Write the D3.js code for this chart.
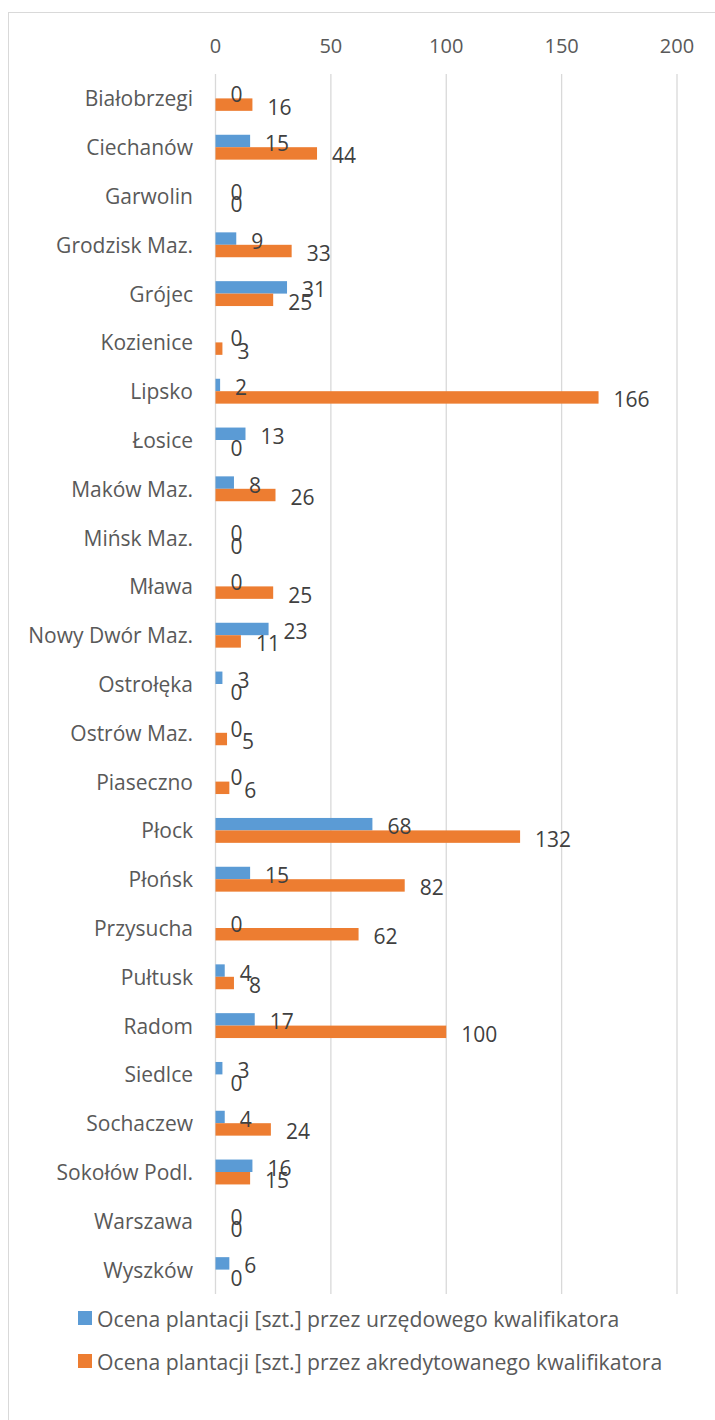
<!DOCTYPE html>
<html>
<head>
<meta charset="utf-8">
<script src="https://cdn.jsdelivr.net/npm/d3@7"></script>
<style>
  body { margin: 0; background: #fff; }
  svg text { font-family: "Open Sans", "Liberation Sans", sans-serif; }
</style>
</head>
<body>
<div id="chart"></div>
<script>
// chart data
const categories = ["Białobrzegi", "Ciechanów", "Garwolin", "Grodzisk Maz.", "Grójec", "Kozienice",
    "Lipsko", "Łosice", "Maków Maz.", "Mińsk Maz.", "Mława", "Nowy Dwór Maz.", "Ostrołęka",
    "Ostrów Maz.", "Piaseczno", "Płock", "Płońsk", "Przysucha", "Pułtusk", "Radom", "Siedlce",
    "Sochaczew", "Sokołów Podl.", "Warszawa", "Wyszków"];
const urzedowy = [0, 15, 0, 9, 31, 0, 2, 13, 8, 0, 0, 23, 3, 0, 0, 68, 15, 0, 4, 17, 3, 4, 16, 0, 6];
const akredytowany = [16, 44, 0, 33, 25, 3, 166, 0, 26, 0, 25, 11, 0, 5, 6, 132, 82, 62, 8, 100, 0, 24, 15, 0, 0];
const seriesNames = ["Ocena plantacji [szt.] przez urzędowego kwalifikatora",
    "Ocena plantacji [szt.] przez akredytowanego kwalifikatora"];
const tickValues = [0, 50, 100, 150, 200];
const colors = ["#5B9BD5", "#ED7D31"];

const width = 715, height = 1420;
const margin = {top: 74, left: 215.5, right: 38, bottom: 126};

const svg = d3.select("#chart").append("svg")
    .attr("width", width)
    .attr("height", height);

// outer chart border
svg.append("rect")
    .attr("x", 8.5).attr("y", 12.5)
    .attr("width", width).attr("height", height)
    .attr("fill", "none")
    .attr("stroke", "#D9D9D9");

const x = d3.scaleLinear()
    .domain([0, 200])
    .range([margin.left, width - margin.right]);

const y = d3.scaleBand()
    .domain(categories)
    .range([margin.top, height - margin.bottom])
    .paddingInner(0.49)
    .paddingOuter(0.245);

const ySub = d3.scaleBand()
    .domain([0, 1])
    .range([0, y.bandwidth()]);

// gridlines
svg.append("g")
    .selectAll("line")
    .data(tickValues)
    .enter().append("line")
    .attr("x1", d => x(d)).attr("x2", d => x(d))
    .attr("y1", margin.top).attr("y2", height - margin.bottom)
    .attr("stroke", "#D9D9D9")
    .attr("stroke-width", 1.3);

// top axis labels
svg.append("g")
    .selectAll("text")
    .data(tickValues)
    .enter().append("text")
    .attr("x", d => x(d))
    .attr("y", 45)
    .attr("text-anchor", "middle")
    .attr("dominant-baseline", "central")
    .attr("font-size", 20)
    .attr("fill", "#595959")
    .text(d => d);

// category labels
svg.append("g")
    .selectAll("text")
    .data(categories)
    .enter().append("text")
    .attr("x", 193)
    .attr("y", d => y(d) + y.bandwidth() / 2)
    .attr("text-anchor", "end")
    .attr("dominant-baseline", "central")
    .attr("font-size", 21)
    .attr("fill", "#595959")
    .text(d => d);

const rows = [];
categories.forEach((c, i) => {
    rows.push({cat: c, s: 0, v: urzedowy[i]});
    rows.push({cat: c, s: 1, v: akredytowany[i]});
});

// bars
svg.append("g")
    .selectAll("rect")
    .data(rows)
    .enter().append("rect")
    .attr("x", x(0))
    .attr("y", d => y(d.cat) + ySub(d.s))
    .attr("width", d => x(d.v) - x(0))
    .attr("height", ySub.bandwidth())
    .attr("fill", d => colors[d.s]);

// data labels
svg.append("g")
    .selectAll("text")
    .data(rows)
    .enter().append("text")
    .attr("x", d => x(d.v) + 15)
    .attr("y", d => y(d.cat) + ySub(d.s) + ySub.bandwidth() / 2 + 2)
    .attr("dominant-baseline", "central")
    .attr("font-size", 21)
    .attr("fill", "#404040")
    .text(d => d.v);

// legend
const legend = svg.append("g")
    .selectAll("g")
    .data(seriesNames)
    .enter().append("g")
    .attr("transform", (d, i) => "translate(78," + (1318 + i * 43) + ")");

legend.append("rect")
    .attr("x", 0).attr("y", -7)
    .attr("width", 14).attr("height", 14)
    .attr("fill", (d, i) => colors[i]);

legend.append("text")
    .attr("x", 19)
    .attr("y", 0)
    .attr("dominant-baseline", "central")
    .attr("font-size", 21.2)
    .attr("fill", "#595959")
    .text(d => d);
</script>
</body>
</html>
